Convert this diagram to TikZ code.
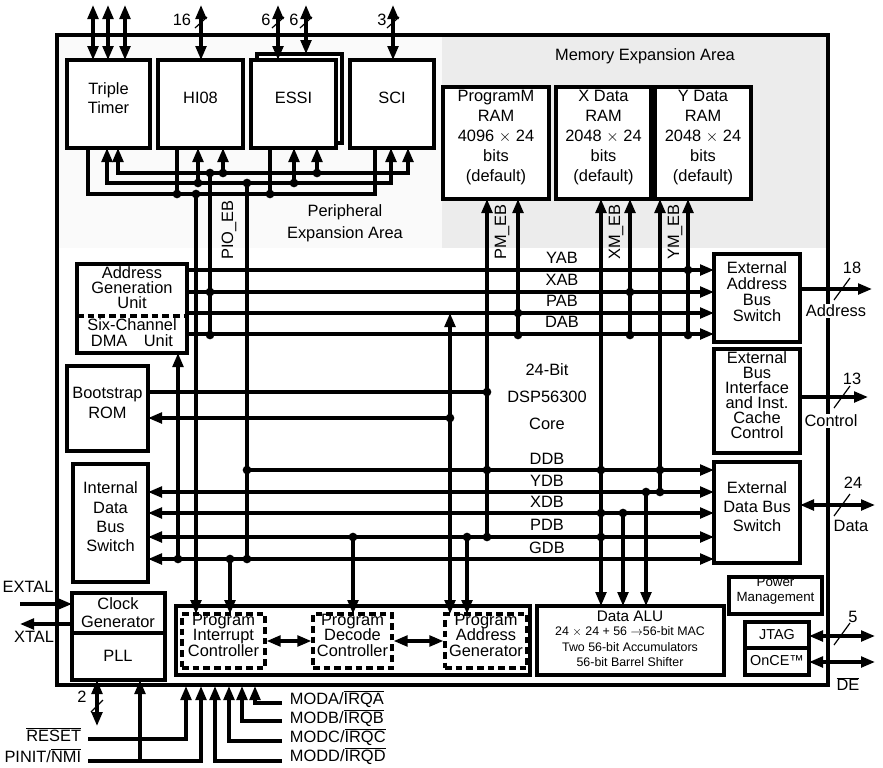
\documentclass[tikz,border=0pt]{standalone}
\usepackage{fontspec}
\setmainfont{Liberation Sans}
\usetikzlibrary{arrows.meta,fit}
\newcommand\ovl[1]{$\overline{\hbox{#1}}$}
\begin{document}
\begin{tikzpicture}[x=0.75pt,y=-0.75pt,line width=2.4pt,
  >={Triangle[length=10.5pt,width=8pt]},
  box/.style={draw,fill=white,inner sep=0pt,align=center,font=\fontsize{12.3}{14.5}\selectfont},
  tbox/.style={box,font=\fontsize{12.3}{12}\selectfont},
  sbox/.style={box,font=\fontsize{10}{11.5}\selectfont},
  dbox/.style={draw,dash pattern=on 5pt off 3pt,inner sep=0pt,align=center,font=\fontsize{12.3}{11.8}\selectfont},
  lab/.style={inner sep=1pt,font=\fontsize{12.3}{13}\selectfont},
  wlab/.style={lab,fill=white},
  sl/.style={line width=0.9pt},
  dot/.style={circle,fill,inner sep=0pt,minimum size=6.5pt}]
\useasboundingbox (0,0) rectangle (883,768);
% areas
\fill[gray!4] (57,35) rectangle (442,248);
\fill[gray!15] (442,35) rectangle (828,248);
\node[lab] (mea) at (645,56) {Memory Expansion Area};
\node[lab,align=center,font=\fontsize{12.3}{16.5}\selectfont] (pea) at (345,223) {Peripheral\\Expansion Area};
% peripheral boxes
\node[box,fit={(67,60) (150,148)}] (tt) {Triple\\Timer};
\node[box,fit={(158,60) (243,148)}] (hi) {HI08};
\node[draw,fill=white,inner sep=0pt,fit={(257,54) (342,143)}] (essis) {};
\node[box,fit={(251,60) (336,148)}] (essi) {ESSI};
\node[box,fit={(350,60) (434,148)}] (sci) {SCI};
% RAM
\node[box,font=\fontsize{12.3}{15}\selectfont,fit={(443,87) (549,199)}] (pram) {ProgramM\\RAM\\4096 $\times$ 24\\bits\\(default)};
\node[box,font=\fontsize{12.3}{15}\selectfont,fit={(556,87) (651,199)}] (xram) {X Data\\RAM\\2048 $\times$ 24\\bits\\(default)};
\node[box,font=\fontsize{12.3}{15}\selectfont,fit={(655,87) (751,199)}] (yram) {Y Data\\RAM\\2048 $\times$ 24\\bits\\(default)};
% top external
\foreach \x in {93,108,125}{\draw[<->] (\x,5)--(\x,60);}
\draw[<->] (201,5)--(201,60); \draw[sl] (195,28)--(207,17); \node[lab] (n16) at (182,20) {16};
\draw[<->] (278,5)--(278,60); \draw[sl] (272,28)--(284,17); \node[lab] (n6a) at (266,20) {6};
\draw[<->] (306,5)--(306,54); \draw[sl] (300,28)--(312,17); \node[lab] (n6b) at (294,20) {6};
\draw[<->] (393,5)--(393,60); \draw[sl] (387,28)--(399,17); \node[lab] (n3) at (382,20) {3};
% peripheral bus
\draw (88,148) |- (375,194) -- (375,148);
\draw (177,148)--(177,194); \draw (270,148)--(270,194);
\draw[<->] (107,148) |- (391,183) -- (391,148);
\draw[->] (198,183)--(198,148); \draw[->] (294,183)--(294,148);
\draw[<->] (118,148) |- (408,173) -- (408,148);
\draw[->] (223,173)--(223,148); \draw[->] (317,173)--(317,148);
\foreach \p in {(177,194),(270,194),(196,194),(198,183),(294,183),(247,183),(223,173),(317,173),(210,173)} \node[dot] at \p {};
\node[lab,rotate=90] (pio) at (229,230) {PIO\_EB};
% left blocks
\node[box,fit={(77,264) (187,353)}] (agu) {};
\draw[dash pattern=on 5pt off 3pt] (77,316)--(187,316);
\node[lab,align=center,font=\fontsize{12.3}{11.3}\selectfont] (agut) at (132,288) {Address\\Generation\\Unit};
\node[lab,align=center,font=\fontsize{12.3}{12}\selectfont] (dmat) at (132,333) {Six-Channel\\DMA\quad Unit};
\node[box,fit={(67,366) (148,451)}] (rom) {Bootstrap\\ROM\\[8pt]};
\node[box,fit={(73,464) (148,582)}] (idbs) {Internal\\Data\\Bus\\Switch};
% right blocks
\node[tbox,fit={(714,254) (800,342)}] (eabs) {External\\Address\\Bus\\Switch};
\node[tbox,font=\fontsize{12.3}{11.3}\selectfont,fit={(714,349) (800,453)}] (ebi) {External\\Bus\\Interface\\and Inst.\\Cache\\Control};
\node[tbox,font=\fontsize{12.3}{14}\selectfont,fit={(714,462) (800,563)}] (edbs) {External\\Data Bus\\Switch};
% peripheral verticals
\draw[->] (196,194)--(196,614);
\draw (210,173)--(210,335);
\draw (247,183)--(247,559);
% address buses
\foreach \y in {270,292,313,334}{\draw[->] (187,\y)--(714,\y);}
\node[lab] (yab) at (562,258) {YAB};
\node[lab] (xab) at (562,280) {XAB};
\node[lab] (pab) at (562,301) {PAB};
\node[lab] (dab) at (562,322) {DAB};
% data buses
\draw[->] (247,470)--(714,470);
\foreach \y in {492,513,537,559}{\draw[<->] (148,\y)--(714,\y);}
\node[lab] (ddb) at (547,459) {DDB};
\node[lab] (ydb) at (547,481) {YDB};
\node[lab] (xdb) at (547,502) {XDB};
\node[lab] (pdb) at (547,525) {PDB};
\node[lab] (gdb) at (547,548) {GDB};
% bootstrap
\draw (148,392)--(487,392);
\draw[->] (450,418)--(148,418);
% verticals
\draw[->] (178,559)--(178,353);
\draw[->] (230,559)--(230,614);
\draw[->] (353,537)--(353,614);
\draw[<->] (450,313)--(450,614);
\draw[->] (467,537)--(467,614);
\draw[->] (487,537)--(487,199);
\draw[->] (518,335)--(518,199);
\draw[<->] (601,606)--(601,199);
\draw[->] (623,513)--(623,606);
\draw[->] (630,335)--(630,199);
\draw[->] (646,492)--(646,606);
\draw[->] (660,492)--(660,199);
\draw[->] (688,335)--(688,199);
\foreach \p in {(210,292),(210,335),(247,470),(247,559),(178,559),(230,559),(353,537),(450,418),(467,537),(487,392),(487,470),(487,537),(518,313),(518,335),(601,470),(601,513),(601,537),(623,513),(630,292),(630,335),(646,492),(660,470),(660,492),(688,270),(688,335)} \node[dot] at \p {};
\node[lab,rotate=90] (pmeb) at (502,232) {PM\_EB};
\node[lab,rotate=90] (xmeb) at (616,232) {XM\_EB};
\node[lab,rotate=90] (ymeb) at (675,232) {YM\_EB};
% core text
\node[lab] (c1) at (547,370) {24-Bit};
\node[lab] (c2) at (547,397) {DSP56300};
\node[lab] (c3) at (547,424) {Core};
% program control
\draw (176,606) rectangle (530,675);
\node[dbox,fit={(182,614) (265,668)}] (pic) {Program\\Interrupt\\Controller};
\node[dbox,fit={(313,614) (392,668)}] (pdc) {Program\\Decode\\Controller};
\node[dbox,fit={(445,614) (527,668)}] (pag) {Program\\Address\\Generator};
\draw[<->] (pic.east)--(pdc.west);
\draw[<->] (pdc.east)--(pag.west);
% data alu
\node[draw,inner sep=0pt,fit={(537,606) (724,675)}] (alu) {};
\node[lab,font=\fontsize{11.5}{12}\selectfont] (alu1) at (630,616) {Data ALU};
\node[lab,inner sep=0pt,font=\fontsize{9.3}{10}\selectfont] (alu2) at (630,632) {24 $\times$ 24 + 56 $\rightarrow$56-bit MAC};
\node[lab,inner sep=0pt,font=\fontsize{9.3}{10}\selectfont] (alu3) at (630,647) {Two 56-bit Accumulators};
\node[lab,inner sep=0pt,font=\fontsize{9.3}{10}\selectfont] (alu4) at (630,662) {56-bit Barrel Shifter};
% clock
\node[box,fit={(72,593) (165,680)}] (clk) {};
\draw (72,633)--(165,633);
\node[lab,align=center,font=\fontsize{12.3}{13.5}\selectfont] (clkt) at (118,613) {Clock\\Generator};
\node[lab] (pll) at (118,656) {PLL};
\draw[->] (20,604)--(72,604); \node[lab] (extal) at (28,587) {EXTAL};
\draw[->] (72,624)--(20,624); \node[lab] (xtal) at (34,637) {XTAL};
\draw[<->] (97,680)--(97,726); \draw[sl] (91,712)--(103,700); \node[lab] (n2) at (82,697) {2};
% bottom pins
\draw[->] (88,739) -| (186,686);
\draw[->] (88,761) -| (201,686);
\draw[->] (140,761)--(140,680);
\draw[->] (282,703) -| (255,686);
\draw[->] (282,721) -| (242,686);
\draw[->] (282,741) -| (229,686);
\draw[->] (282,761) -| (215,686);
\node[lab,anchor=east] (rst) at (84,735) {\ovl{RESET}};
\node[lab,anchor=east] (pinit) at (84,756) {PINIT/\ovl{NMI}};
\node[lab,anchor=west] (ma) at (287,699) {MODA/\ovl{IRQA}};
\node[lab,anchor=west] (mb) at (287,718) {MODB/\ovl{IRQB}};
\node[lab,anchor=west] (mc) at (287,737) {MODC/\ovl{IRQC}};
\node[lab,anchor=west] (md) at (287,756) {MODD/\ovl{IRQD}};
% chip border
\draw[line width=3.2pt] (57,35) rectangle (828,685);
% right side
\node[sbox,fit={(729,577) (822,614)}] (pm) {Power\\Management};
\node[box,fit={(745,622) (809,675)}] (jt) {};
\draw (745,648)--(809,648);
\node[lab,font=\fontsize{10.8}{11}\selectfont] (jtag) at (777,635) {JTAG};
\node[lab,font=\fontsize{10.8}{11}\selectfont] (once) at (777,661) {OnCE™};
\draw[->] (800,289)--(872,289); \draw[sl] (834,300)--(850,278);
\node[lab] (n18) at (852,268) {18}; \node[wlab] (addr) at (836,311) {Address};
\draw[->] (800,397)--(868,397); \draw[sl] (834,408)--(850,386);
\node[lab] (n13) at (852,379) {13}; \node[wlab] (ctl) at (831,421) {Control};
\draw[<->] (800,505)--(875,505); \draw[sl] (834,516)--(850,494);
\node[lab] (n24) at (853,483) {24}; \node[wlab] (data) at (851,526) {Data};
\draw[<->] (809,636)--(875,636); \draw[sl] (834,645)--(850,623);
\node[lab] (n5) at (853,617) {5};
\draw[<->] (809,662)--(875,662);
\node[wlab] (de) at (848,684) {\ovl{DE}};
\end{tikzpicture}
\end{document}
